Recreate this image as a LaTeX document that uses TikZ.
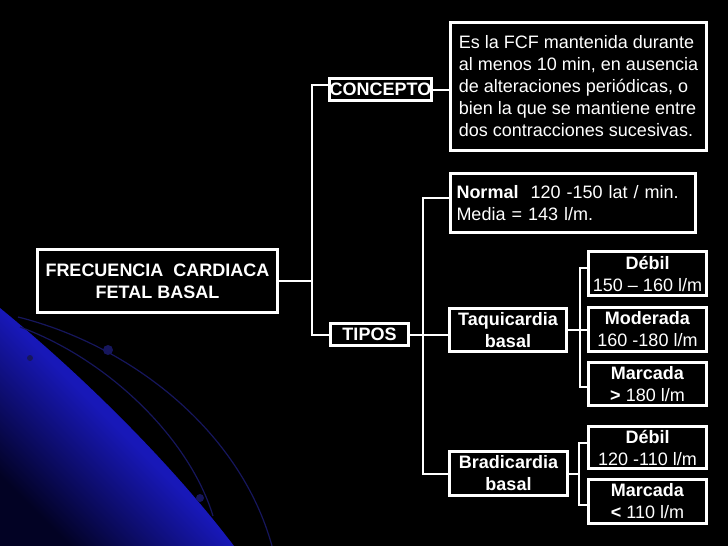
\documentclass[tikz,border=0pt]{standalone}
\usepackage{fontspec}
\setmainfont{Liberation Sans}
\definecolor{brightblue}{RGB}{24,24,184}
\definecolor{darkblue}{RGB}{2,2,36}
\definecolor{navy}{RGB}{22,22,92}
\begin{document}
\begin{tikzpicture}[x=1pt,y=-1pt,
  box/.style={draw=white, line width=3pt, fill=black, text=white, inner sep=0pt, align=center, font=\fontsize{18}{22}\selectfont},
  boldbox/.style={box, font=\fontsize{18}{22}\selectfont\bfseries},
  link/.style={draw=white, line width=2pt},
  bgarc/.style={draw=navy, line width=1.2pt}]
\useasboundingbox (0,0) rectangle (728,546);
\clip (0,0) rectangle (728,546);
\fill[black] (0,0) rectangle (728,546);
% background decoration
\shade[top color=brightblue, bottom color=darkblue, middle color=brightblue, shading angle=-45]
  (0,308) .. controls (70,365) and (165,455) .. (234,546) -- (0,546) -- cycle;
\draw[bgarc] (18,317) .. controls (130,345) and (240,430) .. (272,546);
\draw[bgarc] (20,327) .. controls (110,360) and (190,440) .. (213,516);
\fill[navy] (108,350) circle (5);
\fill[navy] (30,358) circle (3);
\fill[navy] (200,498) circle (4);

% nodes
\node[boldbox, minimum width=240pt, minimum height=63pt] (fcb) at (157.5,281) {FRECUENCIA\ \ CARDIACA\\FETAL BASAL};
\node[boldbox, minimum width=102pt, minimum height=22pt] (concepto) at (380.5,89.5) {CONCEPTO};
\node[box, minimum width=256pt, minimum height=128pt, align=left] (def) at (578.5,86.5)
  {Es la FCF mantenida durante\\al menos 10 min, en ausencia\\de alteraciones periódicas, o\\bien la que se mantiene entre\\dos contracciones sucesivas.};
\node[boldbox, minimum width=78pt, minimum height=22pt] (tipos) at (369.5,334.5) {TIPOS};
\node[box, text width=233pt, inner xsep=6pt, minimum height=59pt, align=left] (normal) at (573,203)
  {\textbf{Normal}\ \ 120 -150 lat / min.\\Media = 143 l/m.};
\node[boldbox, minimum width=117pt, minimum height=43pt] (taqui) at (508,330) {Taquicardia\\basal};
\node[boldbox, minimum width=118pt, minimum height=44pt] (bradi) at (508.5,473.5) {Bradicardia\\basal};
\node[box, minimum width=118pt, minimum height=44pt] (t1) at (647.5,273.5) {\textbf{Débil}\\150 – 160 l/m};
\node[box, minimum width=118pt, minimum height=44pt] (t2) at (647.5,329.5) {\textbf{Moderada}\\160 -180 l/m};
\node[box, minimum width=118pt, minimum height=43pt] (t3) at (647.5,384) {\textbf{Marcada}\\\textbf{>} 180 l/m};
\node[box, minimum width=118pt, minimum height=42pt] (b1) at (647.5,447.5) {\textbf{Débil}\\120 -110 l/m};
\node[box, minimum width=118pt, minimum height=44pt] (b2) at (647.5,501.5) {\textbf{Marcada}\\\textbf{<} 110 l/m};

% trunk coordinates
\coordinate (tr1) at (312,0);
\coordinate (tr2) at (423,0);
\coordinate (tr3) at (580,0);
\coordinate (tr4) at (579,0);
\coordinate (cin) at ([yshift=5pt]concepto.west);
\coordinate (nin) at ([yshift=5pt]normal.west);
\coordinate (t1in) at ([yshift=6pt]t1.west);
\coordinate (t3in) at ([yshift=-3pt]t3.west);
\coordinate (b1in) at ([yshift=5pt]b1.west);
\coordinate (b2in) at ([yshift=-3pt]b2.west);

% connectors
\draw[link] (fcb.east) -- (fcb.east -| tr1);
\draw[link] (cin) -| (tr1 |- tipos.west) -- (tipos.west);
\draw[link] (concepto.east) -- (concepto.east -| def.west);
\draw[link] (tipos.east) -- (tipos.east -| taqui.west);
\draw[link] (nin) -| (tr2 |- bradi.west) -- (bradi.west);
\draw[link] (taqui.east) -- (taqui.east -| tr3);
\draw[link] (t1in) -| (tr3 |- t3in) -- (t3in);
\draw[link] (t2.west) -- (t2.west -| tr3);
\draw[link] (bradi.east) -- (bradi.east -| tr4);
\draw[link] (b1in) -| (tr4 |- b2in) -- (b2in);
\end{tikzpicture}
\end{document}
